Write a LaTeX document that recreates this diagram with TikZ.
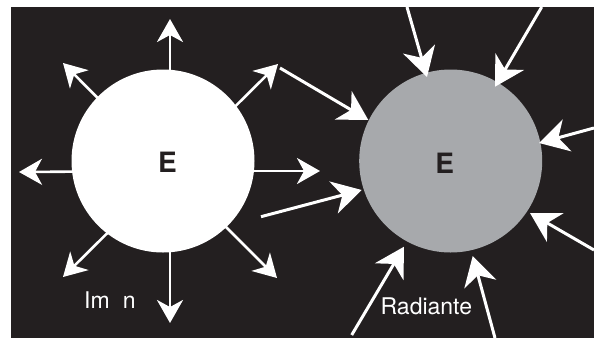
\documentclass[tikz,border=0pt]{standalone}
\usepackage{fontspec}
\setmainfont{TeX Gyre Heros}
\usetikzlibrary{arrows.meta}
\definecolor{bg}{HTML}{231F20}
\definecolor{disk}{HTML}{A7A9AC}
\begin{document}
\begin{tikzpicture}[x=1pt,y=-1pt,
  arr/.style={draw=white, line width=2.6pt, -{Stealth[length=23pt,width=26pt,inset=7pt]}},
  inarr/.style={draw=white, line width=3pt, -{Stealth[length=29pt,width=33pt,inset=9pt]}},
  ball/.style={circle, inner sep=0pt, minimum size=183pt},
  letter/.style={text=bg, font=\bfseries\fontsize{28}{28}\selectfont, inner sep=0pt},
  lbl/.style={text=white, font=\fontsize{23}{23}\selectfont, inner sep=0pt, anchor=base west}]
\useasboundingbox (0,0) rectangle (594,338);
\fill[white] (0,0) rectangle (594,338);
\fill[bg] (11,7) rectangle (594,338);
% left (magnet) arrows, drawn from the centre and hidden by the disc
\coordinate (lc) at (170,171);
\coordinate (lu) at (170,19);
\coordinate (ld) at (170,323);
\coordinate (ll) at (19,172);
\coordinate (lr) at (320,171);
\coordinate (lul) at (63,63);
\coordinate (lur) at (278,64);
\coordinate (ldl) at (63,277);
\coordinate (ldr) at (277,278);
\foreach \t in {lu,ld,ll,lr,lul,lur,ldl,ldr} \draw[arr] (lc) -- (\t);
\node[ball, fill=white] (L) at (163,161) {};
\node[letter] (LE) at (167.5,162.5) {E};
% right (radiant) disc
\node[ball, fill=disk] (R) at (450.7,161) {};
\node[letter] (RE) at (444.7,162.8) {E};
\coordinate (s1) at (407,7);      \coordinate (t1) at (427,77);
\coordinate (s2) at (541.7,7);    \coordinate (t2) at (495,86.7);
\coordinate (s3) at (280,68);     \coordinate (t3) at (368.3,120);
\coordinate (s4) at (261,216.7);  \coordinate (t4) at (361.7,190);
\coordinate (s5) at (594,128);    \coordinate (t5) at (539,143);
\coordinate (s6) at (594,250);    \coordinate (t6) at (530,213);
\coordinate (s7) at (351.7,335);  \coordinate (t7) at (404,246.7);
\coordinate (s8) at (495,338);    \coordinate (t8) at (472.7,256);
\foreach \i in {1,...,8} \draw[inarr] (s\i) -- (t\i);
% labels
\node[lbl] (iman) at (84,308) {Im\hspace{0.57em}n};
\node[lbl] (rad) at (380.5,314) {Radiante};
\end{tikzpicture}
\end{document}
